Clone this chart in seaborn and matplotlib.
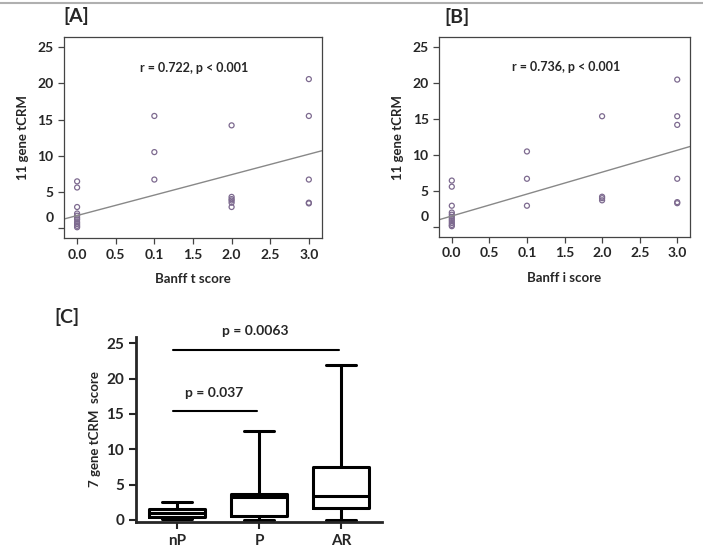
import numpy as np
import matplotlib
matplotlib.use("Agg")
import matplotlib.pyplot as plt
import matplotlib.transforms as mtransforms
from matplotlib.lines import Line2D
import seaborn as sns

# ── 1. DATA ──────────────────────────────────────────────────
# panel A: Banff t score vs 11 gene tCRM
banff_t = [0] * 11 + [1] * 3 + [2] * 6 + [3] * 5
tcrm_t = [6.45, 5.6, 2.9, 2.0, 1.7, 1.4, 1.15, 0.8, 0.55, 0.3, 0.1,
          15.5, 10.5, 6.7,
          14.2, 4.3, 4.0, 3.8, 3.5, 2.9,
          20.6, 15.5, 6.7, 3.5, 3.4]
fit_t = (1.72, 2.83)          # intercept, slope
label_t = "r = 0.722, p < 0.001"

# panel B: Banff i score vs 11 gene tCRM
banff_i = [0] * 11 + [1] * 3 + [2] * 4 + [3] * 6
tcrm_i = [6.45, 5.6, 2.95, 2.0, 1.7, 1.4, 1.1, 0.83, 0.55, 0.28, 0.1,
          10.5, 6.7, 2.95,
          15.4, 4.2, 4.0, 3.7,
          20.5, 15.4, 14.2, 6.7, 3.45, 3.3]
fit_i = (1.52, 3.05)
label_i = "r = 0.736, p < 0.001"

x_ticks = [0.0, 0.5, 1.0, 1.5, 2.0, 2.5, 3.0]
x_ticklabels = ["0.0", "0.5", "0.1", "1.5", "2.0", "2.5", "3.0"]
y_ticks = [0, 5, 10, 15, 20, 25]

# panel C: 7 gene tCRM score box plot summary
groups = ["nP", "P", "AR"]
whisk_lo = [0.2, 0.0, 0.0]
q1 = [0.35, 0.55, 1.65]
median = [1.05, 3.2, 3.4]
q3 = [1.5, 3.7, 7.55]
whisk_hi = [2.6, 12.6, 21.9]

# significance brackets: (from group, to group, height, label)
sig_pairs = [(0, 1, 15.4, "p = 0.037"), (0, 2, 24.1, "p = 0.0063")]

# ── 2. STYLE ─────────────────────────────────────────────────
sns.set_style("ticks")
plt.rcParams['font.family'] = ['Lato', 'DejaVu Sans']

fig = plt.figure(figsize=(7.03, 5.55), dpi=100)
fig.add_artist(Line2D([0, 1], [0.995, 0.995], color="#b0b0b0", lw=1.5))

pt_color = "#7d6a8f"
spine_color = "#444444"


def scatter_panel(ax, x, y, fit, label, xlabel):
    sns.scatterplot(x=x, y=y, ax=ax, marker="o", s=13,
                    facecolor="none", edgecolor=pt_color, linewidth=0.9)
    ax.set_xlim(-0.17, 3.17)
    ax.set_ylim(-1.4, 26.4)
    xs = np.array(ax.get_xlim())
    ax.plot(xs, fit[0] + fit[1] * xs, color="#888888", lw=1.0)
    ax.set_xlim(-0.17, 3.17)
    ax.set_xticks(x_ticks, x_ticklabels)
    ax.set_yticks(y_ticks, [str(v) for v in y_ticks])
    for s in ax.spines.values():
        s.set_color(spine_color)
        s.set_linewidth(0.9)
    ax.tick_params(length=4, width=0.9, color=spine_color, labelsize=10)
    for t in ax.get_xticklabels() + ax.get_yticklabels():
        t.set_fontweight("bold")
    # the "0" label sits a little above its tick in the reference
    lab0 = ax.get_yticklabels()[0]
    lab0.set_transform(lab0.get_transform() +
                       mtransforms.ScaledTranslation(0, 11 / 100, fig.dpi_scale_trans))
    ax.text(1.52, 22.2, label, ha="center", va="center",
            fontsize=9, fontweight="bold")
    ax.set_xlabel(xlabel, fontsize=9.5, fontweight="bold", labelpad=9)
    ax.set_ylabel("11 gene tCRM", fontsize=9.5, fontweight="bold", labelpad=6)


ax_a = fig.add_axes([0.091, 0.571, 0.367, 0.362])
scatter_panel(ax_a, banff_t, tcrm_t, fit_t, label_t, "Banff t score")

ax_b = fig.add_axes([0.6245, 0.573, 0.357, 0.360])
scatter_panel(ax_b, banff_i, tcrm_i, fit_i, label_i, "Banff i score")

fig.text(76 / 703, 1 - 16 / 555, "[A]", fontsize=14, fontweight="bold",
         ha="center", va="center")
fig.text(457 / 703, 1 - 17 / 555, "[B]", fontsize=14, fontweight="bold",
         ha="center", va="center")

# ── 3. BOX PLOT ───────────────────────────────────────────────
ax_c = fig.add_axes([0.1935, 0.060, 0.350, 0.333])
stats = [dict(label=g, whislo=lo, q1=a, med=m, q3=b, whishi=hi, fliers=[])
         for g, lo, a, m, b, hi in zip(groups, whisk_lo, q1, median, q3, whisk_hi)]
lw = 2.2
ax_c.bxp(stats, positions=range(len(groups)), widths=0.69, capwidths=0.37,
         showfliers=False,
         boxprops=dict(color="k", lw=lw), whiskerprops=dict(color="k", lw=lw),
         capprops=dict(color="k", lw=lw), medianprops=dict(color="k", lw=lw))
ax_c.set_xlim(-0.5, 2.5)
ax_c.set_ylim(-0.25, 25.9)
ax_c.set_xticks(range(len(groups)), groups)
ax_c.set_yticks(y_ticks, [str(v) for v in y_ticks])
sns.despine(ax=ax_c)
for s in ax_c.spines.values():
    s.set_linewidth(2)
ax_c.tick_params(length=5, width=1.5, labelsize=11)
for t in ax_c.get_xticklabels() + ax_c.get_yticklabels():
    t.set_fontweight("bold")
ax_c.set_ylabel("7 gene tCRM  score", fontsize=9.5, fontweight="bold", labelpad=4)

for g0, g1, h, txt in sig_pairs:
    ax_c.plot([g0 - 0.05, g1 - 0.02], [h, h], color="k", lw=1.5, clip_on=False)
    ax_c.text((g0 + g1) / 2 - 0.05, h + 2.6, txt, ha="center", va="center",
              fontsize=10, fontweight="bold")

fig.text(67 / 703, 1 - 317 / 555, "[C]", fontsize=14, fontweight="bold",
         ha="center", va="center")

fig.savefig("out.png", dpi=100)
